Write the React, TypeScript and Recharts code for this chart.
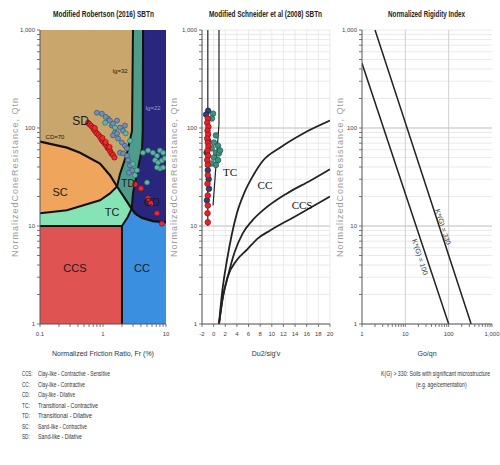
import React from 'react';
import {
  ComposedChart, XAxis, YAxis, Area, Line, Scatter, CartesianGrid, ReferenceDot, ReferenceLine,
} from 'recharts';

const SANS = "'Liberation Sans', Arial, sans-serif";
const NARROW = "'Liberation Sans Narrow', 'Liberation Sans', Arial, sans-serif";
const SERIF = "'Liberation Serif', 'Times New Roman', serif";

// ---- ticks ----
const qTicks = [1, 2, 3, 4, 5, 6, 7, 8, 9, 10, 20, 30, 40, 50, 60, 70, 80, 90, 100, 200, 300, 400, 500, 600, 700, 800, 900, 1000];
const frTicks = [0.1, 0.2, 0.3, 0.4, 0.5, 0.6, 0.7, 0.8, 0.9, 1, 2, 3, 4, 5, 6, 7, 8, 9, 10];
const duTicks = [-2, 0, 2, 4, 6, 8, 10, 12, 14, 16, 18, 20];
const goTicks = [1, 2, 3, 4, 5, 6, 7, 8, 9, 10, 20, 30, 40, 50, 60, 70, 80, 90, 100, 200, 300, 400, 500, 600, 700, 800, 900, 1000];
const qLabels: Record<string, string> = { 1: '1', 10: '10', 100: '100', 1000: '1,000' };
const frLabels: Record<string, string> = { 0.1: '0.1', 1: '1', 10: '10' };

// ---- Robertson (2016) zones, [low, high] Qtn per Fr ----
const sdZone = [{ x: 0.1, r: [1, 1000] }, { x: 10, r: [1, 1000] }];
const tdZone = [
  { x: 1.67, r: [25.3, 25.3] }, { x: 1.86, r: [22.8, 34] }, { x: 2.4, r: [17.7, 55] },
  { x: 2.85, r: [15, 90] }, { x: 2.89, r: [14.5, 94] }, { x: 2.99, r: [14, 1000] }, { x: 10, r: [10, 1000] },
];
const cdZone = [
  { x: 2.85, r: [15, 15] }, { x: 2.99, r: [14.4, 21.6] }, { x: 3.2, r: [13.5, 27] }, { x: 3.46, r: [13, 34] },
  { x: 4.17, r: [12.1, 63] }, { x: 4.28, r: [12, 94] }, { x: 4.32, r: [12, 1000] }, { x: 6.2, r: [11.2, 1000] },
  { x: 10, r: [10.9, 1000] },
];
const ccZone = [
  { x: 2.0, r: [1, 10] }, { x: 2.46, r: [1, 12.3] }, { x: 2.85, r: [1, 15] }, { x: 2.99, r: [1, 14.4] },
  { x: 3.2, r: [1, 13.5] }, { x: 3.46, r: [1, 13] }, { x: 4.17, r: [1, 12.1] }, { x: 6.2, r: [1, 11.2] },
  { x: 10, r: [1, 10.9] },
];
const tcZone = [
  { x: 0.1, r: [10, 13.5] }, { x: 0.268, r: [10, 14.5] }, { x: 0.895, r: [10, 18.3] }, { x: 1.29, r: [10, 21.5] },
  { x: 1.67, r: [10, 25.3] }, { x: 1.86, r: [10, 22.8] }, { x: 2.0, r: [10, 21.2] }, { x: 2.46, r: [12.3, 17.3] },
  { x: 2.85, r: [15, 15] },
];
const scZone = [
  { x: 0.1, r: [13.5, 72.7] }, { x: 0.268, r: [14.5, 63] }, { x: 0.432, r: [15.8, 56] },
  { x: 0.895, r: [18.3, 43.4] }, { x: 1.29, r: [21.5, 33] }, { x: 1.67, r: [25.3, 25.3] },
];
const ccsZone = [{ x: 0.1, r: [1, 10] }, { x: 2.0, r: [1, 10] }];

// ---- Robertson boundaries ----
const ib32 = [
  { x: 0.1, y: 13.5 }, { x: 0.268, y: 14.5 }, { x: 0.895, y: 18.3 }, { x: 1.29, y: 21.5 }, { x: 1.67, y: 25.3 },
  { x: 1.86, y: 34 }, { x: 2.4, y: 55 }, { x: 2.89, y: 94 }, { x: 2.99, y: 1000 },
];
const ib22 = [
  { x: 2.0, y: 10 }, { x: 2.46, y: 12.3 }, { x: 2.85, y: 15 }, { x: 2.99, y: 21.6 }, { x: 3.2, y: 27 },
  { x: 3.46, y: 34 }, { x: 4.17, y: 63 }, { x: 4.28, y: 94 }, { x: 4.32, y: 1000 },
];
const cd70 = [
  { x: 0.1, y: 72.7 }, { x: 0.268, y: 63 }, { x: 0.432, y: 56 }, { x: 0.895, y: 43.4 }, { x: 1.29, y: 33 },
  { x: 1.67, y: 25.3 }, { x: 2.0, y: 21.2 }, { x: 2.46, y: 17.3 }, { x: 2.85, y: 15 }, { x: 2.99, y: 14.4 },
  { x: 3.2, y: 13.5 }, { x: 3.46, y: 13 }, { x: 4.17, y: 12.1 }, { x: 6.2, y: 11.2 }, { x: 10, y: 10.9 },
];
const ccsEdge = [{ x: 0.1, y: 10 }, { x: 2.0, y: 10 }, { x: 2.0, y: 1 }];

// ---- Robertson CPT points ----
const redPts1 = [
  { x: 0.58, y: 113 }, { x: 0.61, y: 109 }, { x: 0.65, y: 105 }, { x: 0.69, y: 101 }, { x: 0.72, y: 96 },
  { x: 0.76, y: 92 }, { x: 0.8, y: 88 }, { x: 0.85, y: 85 }, { x: 0.9, y: 81 }, { x: 0.95, y: 76 },
  { x: 1.0, y: 73 }, { x: 1.06, y: 70 }, { x: 1.12, y: 67 }, { x: 1.18, y: 63 }, { x: 1.24, y: 61 },
  { x: 1.3, y: 58 }, { x: 1.36, y: 55 }, { x: 1.44, y: 53 }, { x: 1.52, y: 50 }, { x: 0.98, y: 79 },
  { x: 1.1, y: 72 }, { x: 1.27, y: 64 }, { x: 0.74, y: 100 },
  { x: 3.22, y: 26.6 }, { x: 4.0, y: 24.2 }, { x: 5.2, y: 19.1 }, { x: 5.8, y: 17.0 }, { x: 7.2, y: 13.5 },
  { x: 8.6, y: 10.6 },
];
const bluePts1 = [
  { x: 0.8, y: 143 }, { x: 0.96, y: 140 }, { x: 1.2, y: 125 }, { x: 1.29, y: 119 }, { x: 1.38, y: 106 },
  { x: 1.44, y: 111 }, { x: 1.67, y: 119 }, { x: 1.86, y: 101 }, { x: 2.08, y: 94 }, { x: 2.23, y: 106 },
  { x: 1.55, y: 90 }, { x: 1.44, y: 84 }, { x: 1.67, y: 88 }, { x: 1.73, y: 78 }, { x: 2.0, y: 71 },
  { x: 2.23, y: 66 }, { x: 2.4, y: 62 }, { x: 1.86, y: 56 }, { x: 2.08, y: 55 }, { x: 2.4, y: 52 },
  { x: 2.49, y: 47 }, { x: 2.68, y: 41.5 }, { x: 2.89, y: 37 }, { x: 2.58, y: 35 }, { x: 1.1, y: 130 },
];
const tealPts1 = [
  { x: 1.08, y: 113 }, { x: 1.55, y: 101 }, { x: 2.3, y: 88 }, { x: 2.68, y: 74 }, { x: 2.99, y: 43 },
  { x: 3.46, y: 37 }, { x: 3.22, y: 33 }, { x: 4.3, y: 56 }, { x: 5.2, y: 59 }, { x: 6.2, y: 56 },
  { x: 7.2, y: 52 }, { x: 8.0, y: 59 }, { x: 9.0, y: 56 }, { x: 6.7, y: 47 }, { x: 7.5, y: 44.5 },
  { x: 8.6, y: 46.6 }, { x: 9.6, y: 49 }, { x: 8.0, y: 38.6 }, { x: 9.0, y: 39.6 }, { x: 7.2, y: 39.6 },
  { x: 5.0, y: 27.8 },
];

// ---- Schneider (2008) ----
const tcLeft = [{ x: -1, y: 1000 }, { x: -1, y: 10 }];
const tcRight = [{ x: 0.92, y: 1000 }, { x: 0.92, y: 110 }, { x: -0.1, y: 16.2 }];
const curveTC = [
  { x: 0.92, y: 1 }, { x: 1.5, y: 2.2 }, { x: 2.3, y: 4.5 }, { x: 4.0, y: 13.5 }, { x: 5.3, y: 22 },
  { x: 6.8, y: 32.8 }, { x: 8.5, y: 46.6 }, { x: 11.4, y: 63 }, { x: 15.4, y: 88 }, { x: 20, y: 119 },
];
const curveCC = [
  { x: 0.92, y: 1 }, { x: 1.6, y: 1.9 }, { x: 2.4, y: 3.0 }, { x: 3.6, y: 5.4 }, { x: 5.0, y: 8.4 },
  { x: 6.6, y: 11.3 }, { x: 8.5, y: 14.5 }, { x: 12.6, y: 21.5 }, { x: 16.6, y: 29 }, { x: 20, y: 38 },
];
const curveCCS = [
  { x: 0.92, y: 1 }, { x: 1.6, y: 1.9 }, { x: 2.4, y: 3.0 }, { x: 4.0, y: 4.5 }, { x: 5.7, y: 5.7 },
  { x: 7.5, y: 7.4 }, { x: 9.7, y: 9 }, { x: 14.3, y: 12.8 }, { x: 20, y: 20 },
];
const redPts2 = [
  { x: -1.0, y: 125 }, { x: -1.1, y: 113 }, { x: -0.9, y: 103 }, { x: -1.05, y: 94 }, { x: -0.95, y: 86 },
  { x: -1.1, y: 78 }, { x: -1.0, y: 71 }, { x: -0.9, y: 65 }, { x: -1.05, y: 59 }, { x: -0.95, y: 52 },
  { x: -1.1, y: 47 }, { x: -1.0, y: 42 }, { x: -1.0, y: 33 }, { x: -1.05, y: 27 }, { x: -1.0, y: 20.5 },
  { x: -1.0, y: 16.2 }, { x: -1.05, y: 13.5 }, { x: -1.0, y: 10.9 },
];
const navyPts2 = [
  { x: -0.95, y: 150 }, { x: -1.3, y: 137 }, { x: -1.0, y: 37 }, { x: -0.8, y: 24 }, { x: -1.15, y: 18.3 },
  { x: -0.95, y: 74 }, { x: -1.2, y: 56 }, { x: -0.85, y: 30 },
];
const tealPts2 = [
  { x: -0.1, y: 140 }, { x: -0.3, y: 125 }, { x: 0.4, y: 84 }, { x: 0.05, y: 71 }, { x: 0.75, y: 66 },
  { x: -0.3, y: 62 }, { x: 0.4, y: 56 }, { x: 0.9, y: 55 }, { x: 0.05, y: 50 }, { x: 0.75, y: 47 },
  { x: -0.3, y: 43.5 }, { x: 0.4, y: 42 }, { x: 1.1, y: 59 },
];

// ---- Rigidity index ----
const k100 = [{ x: 1, y: 457 }, { x: 100, y: 1 }];
const k330 = [{ x: 2, y: 1000 }, { x: 330, y: 1 }];

// ---- text ----
const chartTitles = ['Modified Robertson (2016) SBTn', 'Modified Schneider et al (2008) SBTn', 'Normalized Rigidity Index'];
const legendAbbr = ['CCS:', 'CC:', 'CD:', 'TC:', 'TD:', 'SC:', 'SD:'];
const legendDesc = [
  'Clay-like - Contractive - Sensitive', 'Clay-like - Contractive', 'Clay-like - Dilative',
  'Transitional - Contractive', 'Transitional - Dilative', 'Sand-like - Contractive', 'Sand-like - Dilative',
];
const noteLines = ['K(G) > 330:  Soils with significant microstructure', '(e.g. age/cementation)'];

const titleX = [53, 209, 388];
const titleW = [101, 113, 77];
const legendW = [72, 47, 37, 60, 54, 49, 44];

const axisLine = { stroke: '#555', strokeWidth: 1 };
const borderLine = { stroke: '#555', strokeWidth: 2 };
const tickLine = { stroke: '#555', strokeWidth: 0.8 };
const tickText = { fontSize: 6, fill: '#444', fontFamily: SANS };
const yTitle = (offset: number) => ({
  value: 'NormalizedConeResistance, Qtn', angle: -90, position: 'insideLeft', offset,
  fontSize: 9, fill: '#9a9a9a', fontFamily: SANS, style: { textAnchor: 'middle', letterSpacing: '1px' },
});
const xTitle = (value: string) => ({ value, position: 'insideBottom', offset: -2, fontSize: 7, fill: '#333', fontFamily: NARROW });
const qFmt = (v: number) => qLabels[String(v)] ?? '';

const dot = (fill: string, stroke: string, r: number) => (p: any) =>
  <circle cx={p.cx} cy={p.cy} r={r} fill={fill} stroke={stroke} strokeWidth={0.7} />;

const zoneLbl = (value: string, size: number, fill = '#1a1a1a', family = NARROW) =>
  ({ value, position: 'center', fontSize: size, fill, fontFamily: family });

export default function App() {
  return (
    <div style={{ position: 'absolute', left: 0, top: 0, width: 500, height: 465, background: '#fff', fontFamily: SANS }}>
      {/* Robertson */}
      <div style={{ position: 'absolute', left: 0, top: 0 }}>
        <ComposedChart width={175} height={360} margin={{ top: 30, right: 9, bottom: 6, left: 0 }}>
          <XAxis dataKey="x" type="number" scale="log" domain={[0.1, 10]} ticks={frTicks} interval={0}
            tickFormatter={(v: number) => frLabels[String(v)] ?? ''} tick={tickText} tickSize={3} tickMargin={5}
            height={30} allowDataOverflow axisLine={axisLine} tickLine={tickLine}
            label={xTitle('Normalized Friction Ratio, Fr (%)')} />
          <XAxis xAxisId="top" orientation="top" type="number" scale="log" domain={[0.1, 10]} ticks={frTicks}
            interval={0} tick={false} height={0} mirror tickSize={3} allowDataOverflow axisLine={borderLine} tickLine={tickLine} />
          <YAxis dataKey="y" type="number" scale="log" domain={[1, 1000]} ticks={qTicks} interval={0} tickFormatter={qFmt}
            tick={tickText} tickSize={3} tickMargin={2} width={40} allowDataOverflow axisLine={axisLine} tickLine={tickLine}
            label={yTitle(15)} />
          <YAxis yAxisId="right" orientation="right" type="number" scale="log" domain={[1, 1000]} ticks={qTicks}
            interval={0} tick={false} width={0} mirror tickSize={3} allowDataOverflow axisLine={axisLine} tickLine={tickLine} />

          <Area data={sdZone} dataKey="r" type="linear" fill="#C9A66B" fillOpacity={1} stroke="none" dot={false} activeDot={false} isAnimationActive={false} />
          <Area data={tdZone} dataKey="r" type="linear" fill="#4E9C8C" fillOpacity={1} stroke="none" dot={false} activeDot={false} isAnimationActive={false} />
          <Area data={cdZone} dataKey="r" type="linear" fill="#29267E" fillOpacity={1} stroke="none" dot={false} activeDot={false} isAnimationActive={false} />
          <Area data={ccZone} dataKey="r" type="linear" fill="#3A8FE0" fillOpacity={1} stroke="none" dot={false} activeDot={false} isAnimationActive={false} />
          <Area data={tcZone} dataKey="r" type="linear" fill="#86E3B6" fillOpacity={1} stroke="none" dot={false} activeDot={false} isAnimationActive={false} />
          <Area data={scZone} dataKey="r" type="linear" fill="#EFA65C" fillOpacity={1} stroke="none" dot={false} activeDot={false} isAnimationActive={false} />
          <Area data={ccsZone} dataKey="r" type="linear" fill="#E05353" fillOpacity={1} stroke="none" dot={false} activeDot={false} isAnimationActive={false} />

          <Line data={ib32} dataKey="y" type="linear" stroke="#111" strokeWidth={2} dot={false} activeDot={false} isAnimationActive={false} />
          <Line data={ib22} dataKey="y" type="linear" stroke="#111" strokeWidth={2} dot={false} activeDot={false} isAnimationActive={false} />
          <Line data={cd70} dataKey="y" type="linear" stroke="#111" strokeWidth={2.2} dot={false} activeDot={false} isAnimationActive={false} />
          <Line data={ccsEdge} dataKey="y" type="linear" stroke="#111" strokeWidth={2} dot={false} activeDot={false} isAnimationActive={false} />

          <Scatter data={bluePts1} dataKey="y" shape={dot('#6F8FB3', '#3A5878', 2.5)} isAnimationActive={false} />
          <Scatter data={tealPts1} dataKey="y" shape={dot('#62B5A5', '#2F6F62', 2.5)} isAnimationActive={false} />
          <Scatter data={redPts1} dataKey="y" shape={dot('#EE2A2F', '#8E0F12', 2.6)} isAnimationActive={false} />

          <ReferenceDot x={0.44} y={120} r={0} fill="none" stroke="none" label={zoneLbl('SD', 12)} />
          <ReferenceDot x={0.208} y={22} r={0} fill="none" stroke="none" label={zoneLbl('SC', 11)} />
          <ReferenceDot x={1.39} y={13.8} r={0} fill="none" stroke="none" label={zoneLbl('TC', 11)} />
          <ReferenceDot x={2.49} y={27.2} r={0} fill="none" stroke="none" label={zoneLbl('TD', 10)} />
          <ReferenceDot x={5.99} y={17.4} r={0} fill="none" stroke="none" label={zoneLbl('CD', 11)} />
          <ReferenceDot x={0.359} y={3.71} r={0} fill="none" stroke="none" label={zoneLbl('CCS', 11)} />
          <ReferenceDot x={4.16} y={3.71} r={0} fill="none" stroke="none" label={zoneLbl('CC', 11)} />
          <ReferenceDot x={0.173} y={81.8} r={0} fill="none" stroke="none" label={zoneLbl('CD=70', 6)} />
          <ReferenceDot x={1.86} y={384} r={0} fill="none" stroke="none" label={zoneLbl('Ig=32', 6)} />
          <ReferenceDot x={6.22} y={161} r={0} fill="none" stroke="none" label={zoneLbl('Ig=22', 6, '#9aa0c8')} />
        </ComposedChart>
      </div>

      {/* Schneider */}
      <div style={{ position: 'absolute', left: 165, top: 0 }}>
        <ComposedChart width={175} height={360} margin={{ top: 30, right: 10, bottom: 6, left: 0 }}>
          <CartesianGrid stroke="#e4e4e4" strokeWidth={0.8} />
          <XAxis dataKey="x" type="number" domain={[-2, 20]} ticks={duTicks} interval={0} tick={tickText} tickSize={3}
            tickMargin={5} height={30} allowDataOverflow axisLine={axisLine} tickLine={tickLine} label={xTitle("Du2/sig'v")} />
          <XAxis xAxisId="top" orientation="top" type="number" domain={[-2, 20]} ticks={duTicks} interval={0} tick={false}
            height={0} mirror tickSize={3} allowDataOverflow axisLine={borderLine} tickLine={tickLine} />
          <YAxis dataKey="y" type="number" scale="log" domain={[1, 1000]} ticks={qTicks} interval={0} tickFormatter={qFmt}
            tick={tickText} tickSize={3} tickMargin={2} width={37} allowDataOverflow axisLine={axisLine} tickLine={tickLine}
            label={yTitle(9)} />
          <YAxis yAxisId="right" orientation="right" type="number" scale="log" domain={[1, 1000]} ticks={qTicks}
            interval={0} tick={false} width={0} mirror tickSize={3} allowDataOverflow axisLine={axisLine} tickLine={tickLine} />
          <ReferenceLine y={10} stroke="#c6c6c6" />
          <ReferenceLine y={100} stroke="#c6c6c6" />

          <Line data={tcLeft} dataKey="y" type="linear" stroke="#222" strokeWidth={1.2} dot={false} activeDot={false} isAnimationActive={false} />
          <Line data={tcRight} dataKey="y" type="linear" stroke="#222" strokeWidth={1.2} dot={false} activeDot={false} isAnimationActive={false} />
          <Line data={curveTC} dataKey="y" type="monotone" stroke="#222" strokeWidth={1.8} dot={false} activeDot={false} isAnimationActive={false} />
          <Line data={curveCC} dataKey="y" type="monotone" stroke="#222" strokeWidth={1.8} dot={false} activeDot={false} isAnimationActive={false} />
          <Line data={curveCCS} dataKey="y" type="monotone" stroke="#222" strokeWidth={1.8} dot={false} activeDot={false} isAnimationActive={false} />

          <Scatter data={tealPts2} dataKey="y" shape={dot('#3E8F7E', '#1F5A4E', 2.8)} isAnimationActive={false} />
          <Scatter data={navyPts2} dataKey="y" shape={dot('#33426E', '#1A2444', 2.8)} isAnimationActive={false} />
          <Scatter data={redPts2} dataKey="y" shape={dot('#E3232A', '#8E0F12', 2.8)} isAnimationActive={false} />

          <ReferenceDot x={2.81} y={35.2} r={0} fill="none" stroke="none" label={zoneLbl('TC', 11, '#111', SERIF)} />
          <ReferenceDot x={8.82} y={25.9} r={0} fill="none" stroke="none" label={zoneLbl('CC', 11, '#111', SERIF)} />
          <ReferenceDot x={15.2} y={16.2} r={0} fill="none" stroke="none" label={zoneLbl('CCS', 11, '#111', SERIF)} />
        </ComposedChart>
      </div>

      {/* Rigidity index */}
      <div style={{ position: 'absolute', left: 330, top: 0 }}>
        <ComposedChart width={170} height={360} margin={{ top: 30, right: 8, bottom: 6, left: 0 }}>
          <CartesianGrid stroke="#e4e4e4" strokeWidth={0.8} vertical={false} />
          <XAxis dataKey="x" type="number" scale="log" domain={[1, 1000]} ticks={goTicks} interval={0} tickFormatter={qFmt}
            tick={tickText} tickSize={3} tickMargin={5} height={30} allowDataOverflow axisLine={axisLine} tickLine={tickLine}
            label={xTitle('Go/qn')} />
          <XAxis xAxisId="top" orientation="top" type="number" scale="log" domain={[1, 1000]} ticks={goTicks} interval={0}
            tick={false} height={0} mirror tickSize={3} allowDataOverflow axisLine={borderLine} tickLine={tickLine} />
          <YAxis dataKey="y" type="number" scale="log" domain={[1, 1000]} ticks={qTicks} interval={0} tickFormatter={qFmt}
            tick={tickText} tickSize={3} tickMargin={2} width={32} allowDataOverflow axisLine={axisLine} tickLine={tickLine}
            label={yTitle(10)} />
          <YAxis yAxisId="right" orientation="right" type="number" scale="log" domain={[1, 1000]} ticks={qTicks}
            interval={0} tick={false} width={0} mirror tickSize={3} allowDataOverflow axisLine={axisLine} tickLine={tickLine} />
          <ReferenceLine x={10} stroke="#d0d0d0" />
          <ReferenceLine x={100} stroke="#d0d0d0" />
          <ReferenceLine y={10} stroke="#c6c6c6" />
          <ReferenceLine y={100} stroke="#c6c6c6" />

          <Line data={k100} dataKey="y" type="linear" stroke="#222" strokeWidth={1.5} dot={false} activeDot={false} isAnimationActive={false} />
          <Line data={k330} dataKey="y" type="linear" stroke="#222" strokeWidth={1.5} dot={false} activeDot={false} isAnimationActive={false} />

          <ReferenceDot x={74} y={9.8} r={0} fill="none" stroke="none"
            label={{ value: 'K*(G) = 330', position: 'center', angle: 72, fontSize: 7, fill: '#333', fontFamily: NARROW }} />
          <ReferenceDot x={21.8} y={4.83} r={0} fill="none" stroke="none"
            label={{ value: 'K*(G) = 100', position: 'center', angle: 72, fontSize: 7, fill: '#333', fontFamily: NARROW }} />
        </ComposedChart>
      </div>

      {/* titles, legend and note */}
      <svg width={500} height={465} style={{ position: 'absolute', left: 0, top: 0, pointerEvents: 'none' }} fontFamily={SANS}>
        {chartTitles.map((t, i) => (
          <text key={t} x={titleX[i]} y={17} fontSize={8.5} fontWeight="bold" fill="#222"
            textLength={titleW[i]} lengthAdjust="spacingAndGlyphs">{t}</text>
        ))}
        {legendAbbr.map((a, i) => (
          <g key={a} fill="#333" fontSize={6.5}>
            <text x={22} y={376 + i * 10.5} textLength={a.length * 2.6} lengthAdjust="spacingAndGlyphs">{a}</text>
            <text x={38} y={376 + i * 10.5} textLength={legendW[i]} lengthAdjust="spacingAndGlyphs">{legendDesc[i]}</text>
          </g>
        ))}
        <text transform="translate(381 376) scale(0.8 1)" fontSize={6.5} fill="#333">{noteLines[0]}</text>
        <text transform="translate(416 387) scale(0.78 1)" fontSize={6.5} fill="#333">{noteLines[1]}</text>
      </svg>
    </div>
  );
}
